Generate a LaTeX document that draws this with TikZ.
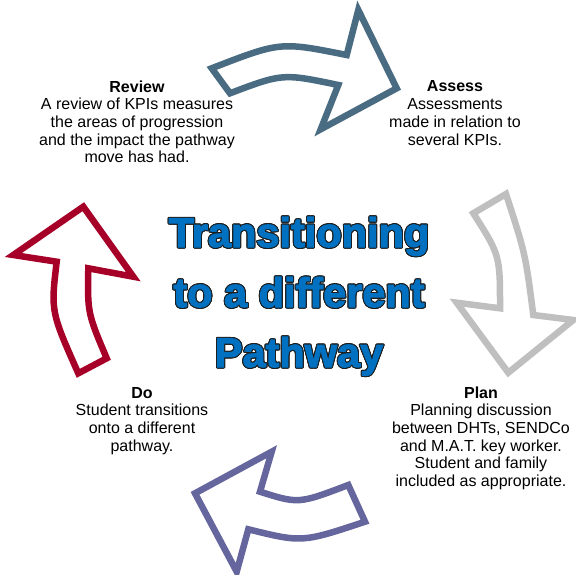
\documentclass[tikz,border=0pt]{standalone}
\usepackage{fontspec}
\setmainfont{Liberation Sans}
\usepackage{contour}
\contourlength{1.0pt}
% heavier title face: glyphs are filled and stroked in the same colour
\newfontfamily\titlefont[FakeBold=2.4]{Liberation Sans Bold}
\definecolor{assessblue}{RGB}{74,108,130}
\definecolor{plangray}{RGB}{191,191,191}
\definecolor{dopurple}{RGB}{102,102,158}
\definecolor{reviewred}{RGB}{166,0,40}
\definecolor{titleblue}{RGB}{0,112,192}
\definecolor{titleline}{RGB}{30,30,30}
\begin{document}
\begin{tikzpicture}[x=1pt,y=-1pt,
  cyclearrow/.style={line width=6.5pt, line join=miter, fill=white},
  % the base anchor of a multi-line node sits on its last line
  stagetext/.style={align=center, anchor=base, inner sep=0pt,
    font=\fontsize{16}{17.7}\selectfont},
  titletext/.style={align=center, anchor=base, inner sep=0pt,
    font=\titlefont\fontsize{41.5}{60}\selectfont, text=titleblue}]
\useasboundingbox (0,0) rectangle (576,575);

% curved arrow into "Assess"
\draw[cyclearrow, draw=assessblue]
  (211.7,68.3) -- (230,93.3)
  .. controls (282.6,73.4) .. (338.3,85)
  -- (320.7,129.3) -- (396.7,88.3) -- (358.3,10) -- (346.7,55)
  .. controls (280.3,41.7) .. (211.7,68.3) -- cycle;

% curved arrow into "Plan"
\draw[cyclearrow, draw=plangray]
  (473.3,213.3) -- (506,194)
  .. controls (525.4,253.8) .. (533.3,315)
  -- (573.3,320) -- (508.3,372.7) -- (456.7,302.7) -- (500,308.3)
  .. controls (500.05,255.3) .. (473.3,213.3) -- cycle;

% curved arrow into "Do"
\draw[cyclearrow, draw=dopurple]
  (365,521.7) -- (348.3,485)
  .. controls (298.6,503.9) .. (260,491.7)
  -- (271.7,451.7) -- (195,493.3) -- (236.7,571.7) -- (248.3,529.3)
  .. controls (302.2,542.6) .. (365,521.7) -- cycle;

% curved arrow into "Review"
\draw[cyclearrow, draw=reviewred]
  (78.3,373.3) -- (106.7,358.3)
  .. controls (87.5,312.9) .. (88.3,268.3)
  -- (133.3,276.7) -- (83.3,206.7) -- (13.3,255) -- (56.7,261.7)
  .. controls (50.8,311.5) .. (78.3,373.3) -- cycle;

% stage descriptions
\node[stagetext] (review) at (137,162.8) {\textbf{Review}\\A review of KPIs measures\\the areas of progression\\and the impact the pathway\\move has had.};
\node[stagetext] (assess) at (455,145.1) {\textbf{Assess}\\Assessments\\made in relation to\\several KPIs.};
\node[stagetext] (plan) at (481,486.5) {\textbf{Plan}\\Planning discussion\\between DHTs, SENDCo\\and M.A.T. key worker.\\Student and family\\included as appropriate.};
\node[stagetext] (do) at (142,451.1) {\textbf{Do}\\Student transitions\\onto a different\\pathway.};

% central title, blue letters with a dark outline
\node[titletext] (title) at (299,367) {\contour{titleline}{Transitioning}\\\contour{titleline}{to a different}\\\contour{titleline}{Pathway}};
\end{tikzpicture}
\end{document}
